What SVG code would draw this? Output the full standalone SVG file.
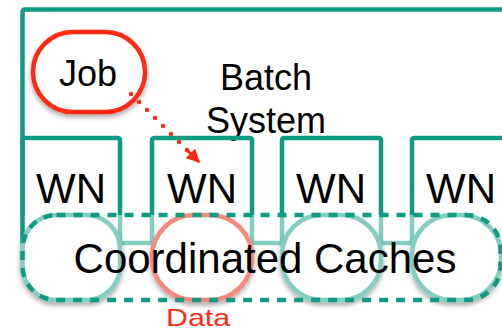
<svg xmlns="http://www.w3.org/2000/svg" width="502" height="331" viewBox="0 0 502 331">
<defs>
<filter id="sh" x="-20%" y="-20%" width="140%" height="150%">
<feDropShadow dx="0" dy="3" stdDeviation="2.5" flood-color="#000" flood-opacity="0.35"/>
</filter>
<marker id="ah" viewBox="0 0 10 10" refX="9" refY="5" markerWidth="4.5" markerHeight="4.5" markerUnits="strokeWidth" orient="auto">
<path d="M0,0 L10,5 L0,10 Z" fill="#ff2a14"/>
</marker>
<style>
.t{font-family:"Liberation Sans",Arial,sans-serif;fill:#000;text-anchor:middle}
.dk{fill:none;stroke:#0f9a82;stroke-width:4.5}
.lt{fill:#fff;stroke:#84cdc1;stroke-width:4.5}
.ltl{fill:none;stroke:#84cdc1;stroke-width:4.5}
</style>
</defs>
<rect width="502" height="331" fill="#fff"/>
<g id="batch-system">
<path class="dk" d="M22.5,245 V12.5 Q22.5,9.5 25.5,9.5 H520"/>
<text class="t" x="266" y="90" font-size="36">Batch</text>
<text class="t" x="266" y="133" font-size="36">System</text>
</g>
<g id="caches-links">
<path class="ltl" d="M120,214 V243 H152 V214 M252,214 V243 H282 V214 M381,214 V243 H412 V214"/>
</g>
<g id="cache1"><rect class="lt" filter="url(#sh)" x="22.5" y="215" width="97.5" height="85" rx="34"/></g>
<g id="cache2"><rect class="lt" filter="url(#sh)" style="stroke:#f7887a" x="152" y="215" width="100" height="85" rx="42"/></g>
<g id="cache3"><rect class="lt" filter="url(#sh)" x="282" y="215" width="99" height="85" rx="40"/></g>
<g id="cache4"><rect class="lt" filter="url(#sh)" x="412" y="215" width="89" height="85" rx="40"/></g>
<g id="coordinated-caches">
<rect fill="none" stroke="#0f9a82" stroke-width="4.5" stroke-dasharray="9 8" x="22.5" y="215" width="478" height="85" rx="34"/>
<text class="t" x="265" y="273" font-size="42">Coordinated Caches</text>
</g>
<g id="wn1"><path class="dk" d="M22.5,215 V140 Q22.5,138 25,138 H117.5 Q120,138 120,140.5 V215"/><text class="t" x="71" y="203" font-size="42">WN</text></g>
<g id="wn2"><path class="dk" d="M152,215 V140.5 Q152,138 154.5,138 H249.5 Q252,138 252,140.5 V215"/><text class="t" x="202" y="203" font-size="42">WN</text></g>
<g id="wn3"><path class="dk" d="M282,215 V140.5 Q282,138 284.5,138 H378.5 Q381,138 381,140.5 V215"/><text class="t" x="331" y="203" font-size="42">WN</text></g>
<g id="wn4"><path class="dk" d="M412,215 V140.5 Q412,138 414.5,138 H520"/><text class="t" x="461" y="203" font-size="42">WN</text></g>
<g id="job">
<rect fill="#fff" stroke="#ff2a14" stroke-width="4.5" filter="url(#sh)" x="33" y="32" width="112" height="80" rx="40"/>
<text class="t" x="88" y="86" font-size="36">Job</text>
</g>
<g id="data-label"><text class="t" style="fill:#ff2a14" x="198" y="326" font-size="24" textLength="64" lengthAdjust="spacingAndGlyphs">Data</text></g>
<g id="connectors">
<path d="M131,94 L188,151" fill="none" stroke="#ff2a14" stroke-width="4.5" stroke-linecap="round" stroke-dasharray="0 11.3"/>
<path d="M188,151 L199,162" fill="none" stroke="#ff2a14" stroke-width="3" marker-end="url(#ah)"/>
</g>
</svg>
